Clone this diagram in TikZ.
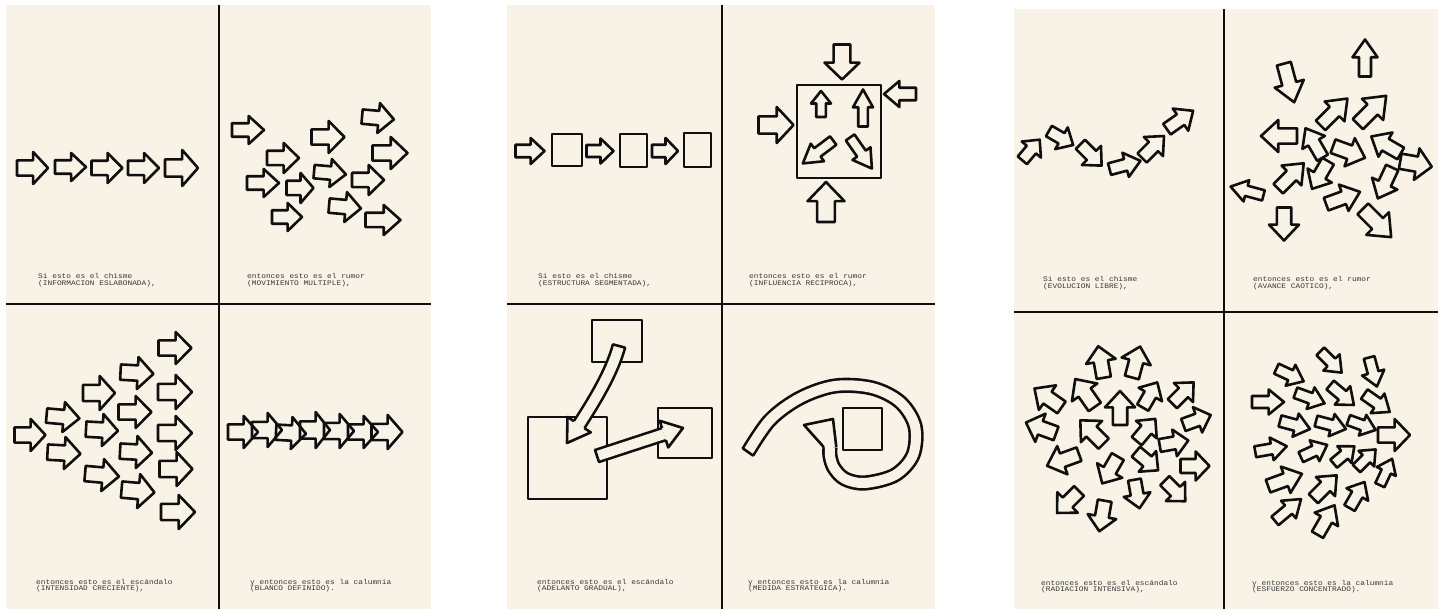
\documentclass[tikz,border=0pt]{standalone}
\usepackage{fontspec}
\newfontfamily\typew{Liberation Mono}
\definecolor{paperc}{RGB}{248,243,230}
\definecolor{inkc}{RGB}{15,15,15}
\definecolor{typec}{RGB}{55,55,55}
\newcommand{\tl}[1]{\scalebox{1.12}[1]{#1}}
\tikzset{
 ink/.style={line width=2.6pt, line join=round, draw=inkc},
 divider/.style={line width=1.8pt, draw=inkc},
 sheet/.style={fill=paperc},
 captxt/.style={text=typec, inner sep=0pt, anchor=base west, font=\typew\fontsize{7}{7}\selectfont},
 band/.style={line width=2.6pt, draw=inkc, double=paperc, double distance=10pt, line join=round},
}
% block arrow: x y angle length height
\newcommand{\ar}[5]{\draw[ink,shift={(#1,#2)},rotate=#3,xscale=#4,yscale=#5] (-0.5,-0.24)--(0.02,-0.24)--(0.02,-0.5)--(0.5,0)--(0.02,0.5)--(0.02,0.24)--(-0.5,0.24)--cycle;}
% band head: tipx tipy angle len halfwidth
\newcommand{\bhead}[5]{\fill[paperc,shift={(#1,#2)},rotate=#3] (-#4,-#5)--(0,0)--(-#4,#5)--cycle;
 \draw[ink,shift={(#1,#2)},rotate=#3] (-#4,-6.3)--(-#4,-#5)--(0,0)--(-#4,#5)--(-#4,6.3);}
\newcommand{\capn}[5]{\node[captxt] (#1a) at (#2,#3) {\tl{#4}};
 \node[captxt] (#1b) at (#2,#3+6.8) {\tl{#5}};}
\begin{document}
\begin{tikzpicture}[x=1pt,y=-1pt]
\useasboundingbox (0,0) rectangle (1445,609);
\fill[white] (0,0) rectangle (1445,609);
% sheets
\fill[sheet] (6,5) rectangle (431,609);
\fill[sheet] (507,5) rectangle (935,609);
\fill[sheet] (1014,9) rectangle (1438,609);
\draw[divider] (219,5) -- (219,609);
\draw[divider] (6,304) -- (431,304);
\draw[divider] (722,5) -- (722,609);
\draw[divider] (507,304) -- (935,304);
\draw[divider] (1224,9) -- (1224,609);
\draw[divider] (1014,312) -- (1438,312);
% ===== sheet 1 =====
\ar{32.5}{168}{0}{31}{32}
\ar{70.5}{167}{0}{31}{28}
\ar{107}{168}{0}{31}{30}
\ar{143.5}{168}{0}{31}{30}
\ar{181.5}{168}{0}{33}{36}
% top right
\ar{248}{130}{0}{32}{28}
\ar{328}{137}{0}{33}{32}
\ar{378}{118}{-5}{32}{30}
\ar{283}{158}{0}{32}{30}
\ar{390}{153}{0}{35}{32}
\ar{330}{173}{-5}{32}{28}
\ar{263}{183}{0}{32}{28}
\ar{300}{188}{0}{27}{30}
\ar{368}{180}{0}{32}{30}
\ar{345}{207}{-5}{32}{30}
\ar{287}{217}{0}{30}{28}
\ar{383}{220}{0}{35}{30}
% bottom left
\ar{30}{435}{0}{31}{32}
\ar{63}{417}{-5}{33}{30}
\ar{64}{453}{-3}{33}{32}
\ar{99}{393}{0}{32}{34}
\ar{102}{430}{-3}{32}{32}
\ar{102}{475}{-5}{34}{32}
\ar{137}{373}{-3}{33}{32}
\ar{135}{412}{0}{33}{32}
\ar{136}{452}{-3}{32}{32}
\ar{138}{491}{-5}{33}{34}
\ar{175}{348}{0}{33}{32}
\ar{175}{392}{0}{34}{34}
\ar{175}{433}{0}{34}{34}
\ar{176}{469}{0}{33}{34}
\ar{178}{512}{0}{34}{34}
% bottom right
\ar{243}{432}{0}{30}{32}
\ar{267}{430}{0}{30}{34}
\ar{291}{433}{-3}{30}{32}
\ar{315}{430}{0}{30}{36}
\ar{339}{431}{0}{30}{34}
\ar{363}{432}{0}{30}{32}
\ar{387}{432}{0}{31}{34}
\capn{sa}{38}{279}{Si esto es el chisme}{(INFORMACION ESLABONADA),}
\capn{sb}{247}{279}{entonces esto es el rumor}{(MOVIMIENTO MULTIPLE),}
\capn{sc}{36}{584}{entonces esto es el escándalo}{(INTENSIDAD CRECIENTE),}
\capn{sd}{250}{584}{y entonces esto es la calumnia}{(BLANCO DEFINIDO).}
% ===== sheet 2 =====
\ar{530}{151}{0}{29}{26}
\draw[ink] (552,134) rectangle (582,166);
\ar{600}{151}{0}{27}{25}
\draw[ink] (620,134) rectangle (647,167);
\ar{665}{151}{0}{26}{26}
\draw[ink] (684,133) rectangle (711,167);
% top right
\draw[ink] (797,85) rectangle (881,178);
\ar{842}{62}{-90}{35}{35}
\ar{900}{94}{180}{32}{26}
\ar{776}{125}{0}{35}{36}
\ar{826}{202}{90}{40}{37}
\ar{821}{104}{90}{26}{20}
\ar{863}{108}{90}{37}{20}
\ar{818}{152}{217}{38}{22}
\ar{861}{153}{-55}{38}{22}
% bottom left
\draw[ink] (592,320) rectangle (642,362);
\draw[ink] (528,417) rectangle (607,499);
\draw[ink] (658,408) rectangle (712,458);
\draw[band] (619,346) .. controls (612,372) and (595,400) .. (579.1,424.7);
\draw[ink, line cap=round] (625,347.6) -- (613,344.4);
\bhead{567}{443}{-123.5}{22}{14}
\draw[band] (597,456) -- (664,434.1);
\draw[ink, line cap=round] (599,462) -- (595,450);
\bhead{683}{428}{17.8}{20}{14}
% bottom right
\draw[ink] (843,408) rectangle (882,450);
\draw[band] plot[smooth, tension=0.55] coordinates {(748,452) (770,420) (800,398) (835,386) (872,388) (900,402) (915,426) (913,455) (895,475) (865,483) (845,479) (834,468) (830,456) (830,447)};
\draw[ink, line cap=round] (753,455.5) -- (743,448.5);
\fill[paperc] (836.3,447) -- (833,419) -- (804,425) -- (823.7,447) -- cycle;
\draw[ink] (836.3,447) -- (833,419) -- (804,425) -- (823.7,447);
\capn{ta}{538}{279}{Si esto es el chisme}{(ESTRUCTURA SEGMENTADA),}
\capn{tb}{749}{279}{entonces esto es el rumor}{(INFLUENCIA RECIPROCA),}
\capn{tc}{537}{584}{entonces esto es el escándalo}{(ADELANTO GRADUAL),}
\capn{td}{748}{584}{y entonces esto es la calumnia}{(MEDIDA ESTRATEGICA).}
% ===== sheet 3 =====
\ar{1031}{150}{50}{27}{25}
\ar{1061}{138}{-30}{28}{25}
\ar{1091}{155}{-45}{30}{27}
\ar{1125}{165}{15}{32}{25}
\ar{1153}{147}{45}{31}{27}
\ar{1180}{120}{35}{32}{27}
% top right
\ar{1365}{58}{90}{37}{25}
\ar{1289}{83}{-75}{40}{30}
\ar{1334}{112}{45}{38}{28}
\ar{1372}{110}{45}{40}{30}
\ar{1279}{136}{180}{36}{32}
\ar{1314}{143}{120}{34}{26}
\ar{1349}{152}{-20}{34}{30}
\ar{1386}{145}{150}{34}{28}
\ar{1416}{164}{-10}{32}{32}
\ar{1291}{176}{45}{36}{28}
\ar{1320}{175}{-120}{32}{28}
\ar{1385}{183}{-115}{34}{28}
\ar{1343}{198}{20}{36}{28}
\ar{1247}{191}{165}{34}{22}
\ar{1284}{224}{-90}{33}{30}
\ar{1377}{223}{-45}{40}{32}
% bottom left
\ar{1101}{362}{100}{32}{30}
\ar{1136}{362}{75}{32}{30}
\ar{1048}{398}{145}{33}{30}
\ar{1085}{393}{125}{34}{31}
\ar{1120}{408}{90}{34}{30}
\ar{1150}{395}{60}{29}{27}
\ar{1183}{393}{45}{30}{27}
\ar{1041}{428}{160}{32}{30}
\ar{1092}{432}{135}{33}{30}
\ar{1197}{420}{20}{29}{27}
\ar{1146}{430}{50}{29}{27}
\ar{1174}{443}{10}{29}{27}
\ar{1063}{460}{200}{34}{30}
\ar{1110}{470}{240}{31}{29}
\ar{1147}{461}{-40}{29}{27}
\ar{1195}{466}{0}{29}{29}
\ar{1068}{502}{225}{31}{29}
\ar{1137}{494}{-80}{29}{27}
\ar{1175}{491}{-45}{29}{27}
\ar{1102}{516}{260}{31}{29}
% bottom right
\ar{1331}{362}{-45}{30}{23}
\ar{1373}{372}{-75}{30}{23}
\ar{1290}{375}{-25}{30}{23}
\ar{1268}{402}{0}{32}{25}
\ar{1310}{398}{-20}{31}{23}
\ar{1342}{395}{-40}{31}{24}
\ar{1377}{403}{-35}{31}{24}
\ar{1295}{425}{-15}{31}{24}
\ar{1331}{425}{-15}{31}{23}
\ar{1362}{425}{-20}{29}{22}
\ar{1394}{435}{0}{32}{32}
\ar{1271}{449}{10}{32}{23}
\ar{1314}{451}{25}{29}{23}
\ar{1344}{455}{40}{27}{22}
\ar{1366}{459}{45}{27}{22}
\ar{1386}{472}{65}{29}{21}
\ar{1285}{480}{20}{36}{28}
\ar{1325}{487}{45}{33}{27}
\ar{1357}{495}{60}{30}{25}
\ar{1288}{510}{40}{34}{23}
\ar{1326}{520}{60}{34}{27}
\capn{ua}{1043}{282}{Si esto es el chisme}{(EVOLUCION LIBRE),}
\capn{ub}{1253}{282}{entonces esto es el rumor}{(AVANCE CAOTICO),}
\capn{uc}{1041}{585}{entonces esto es el escándalo}{(RADIACION INTENSIVA),}
\capn{ud}{1252}{585}{y entonces esto es la calumnia}{(ESFUERZO CONCENTRADO).}
\end{tikzpicture}
\end{document}
